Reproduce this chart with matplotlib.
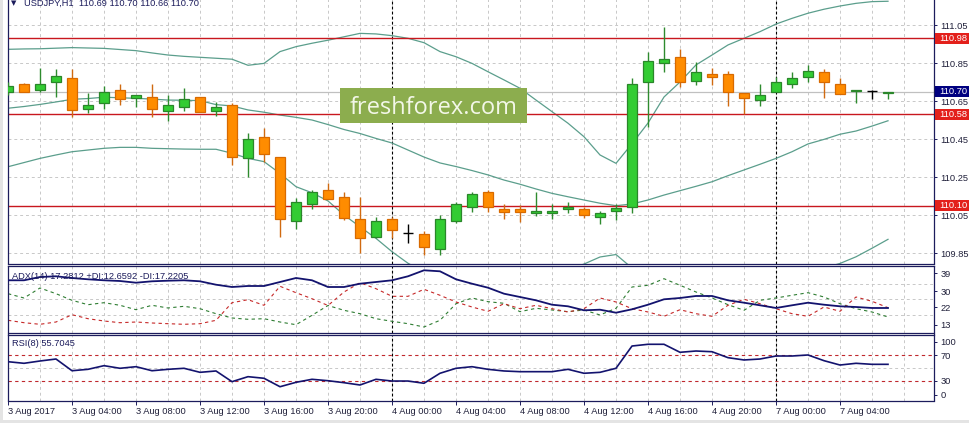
import matplotlib
matplotlib.use("Agg")
import matplotlib.pyplot as plt
import matplotlib.transforms as mtransforms
from matplotlib.patches import Rectangle

plt.rcParams['font.family'] = ['Liberation Sans', 'DejaVu Sans']

W, H = 969, 423

# --- data (USDJPY, H1) ---
time_labels = ["3 Aug 2017", "3 Aug 04:00", "3 Aug 08:00", "3 Aug 12:00", "3 Aug 16:00",
               "3 Aug 20:00", "4 Aug 00:00", "4 Aug 04:00", "4 Aug 08:00", "4 Aug 12:00",
               "4 Aug 16:00", "4 Aug 20:00", "7 Aug 00:00", "7 Aug 04:00"]

opens = [110.700, 110.740, 110.706, 110.748, 110.770, 110.606, 110.638, 110.706, 110.668, 110.670,
         110.600, 110.617, 110.670, 110.600, 110.627, 110.348, 110.459, 110.357, 110.017, 110.106,
         110.181, 110.146, 110.029, 109.936, 110.029, 109.957, 109.948, 109.870, 110.017, 110.094,
         110.170, 110.082, 110.082, 110.059, 110.059, 110.080, 110.082, 110.038, 110.069, 110.094,
         110.748, 110.848, 110.880, 110.757, 110.792, 110.792, 110.690, 110.657, 110.699, 110.738,
         110.778, 110.803, 110.738, 110.701, 110.704, 110.690]
highs = [110.750, 110.745, 110.822, 110.818, 110.818, 110.690, 110.729, 110.740, 110.682, 110.740,
         110.682, 110.717, 110.670, 110.646, 110.638, 110.480, 110.506, 110.357, 110.138, 110.181,
         110.220, 110.169, 110.146, 110.038, 110.038, 110.003, 109.967, 110.050, 110.118, 110.170,
         110.181, 110.106, 110.103, 110.170, 110.106, 110.117, 110.094, 110.073, 110.106, 110.770,
         110.910, 111.040, 110.922, 110.854, 110.822, 110.808, 110.690, 110.740, 110.778, 110.804,
         110.840, 110.818, 110.770, 110.708, 110.708, 110.700]
lows = [110.680, 110.700, 110.700, 110.670, 110.567, 110.585, 110.606, 110.629, 110.618, 110.567,
        110.546, 110.599, 110.590, 110.571, 110.315, 110.248, 110.330, 109.936, 109.976, 110.080,
        110.136, 110.024, 109.850, 109.927, 109.927, 109.904, 109.838, 109.838, 110.006, 110.068,
        110.068, 110.027, 110.015, 110.046, 110.027, 110.059, 110.036, 110.001, 110.024, 110.059,
        110.515, 110.804, 110.722, 110.734, 110.734, 110.624, 110.580, 110.624, 110.699, 110.717,
        110.748, 110.667, 110.688, 110.638, 110.659, 110.660]
closes = [110.730, 110.700, 110.740, 110.782, 110.603, 110.627, 110.700, 110.659, 110.680, 110.606,
          110.627, 110.659, 110.590, 110.617, 110.357, 110.448, 110.369, 110.029, 110.117, 110.169,
          110.136, 110.036, 109.927, 110.017, 109.971, 109.957, 109.880, 110.027, 110.106, 110.159,
          110.090, 110.068, 110.068, 110.071, 110.071, 110.090, 110.048, 110.059, 110.088, 110.738,
          110.860, 110.870, 110.748, 110.804, 110.778, 110.699, 110.667, 110.680, 110.748, 110.770,
          110.808, 110.748, 110.688, 110.708, 110.704, 110.700]

bb_upper = [110.922, 110.924, 110.925, 110.928, 110.931, 110.929, 110.927, 110.921, 110.915, 110.903,
            110.892, 110.885, 110.880, 110.875, 110.870, 110.838, 110.848, 110.910, 110.936, 110.954,
            110.970, 110.988, 111.006, 111.003, 110.994, 110.980, 110.957, 110.910, 110.883, 110.848,
            110.804, 110.761, 110.717, 110.655, 110.594, 110.533, 110.462, 110.366, 110.322, 110.425,
            110.534, 110.671, 110.750, 110.840, 110.892, 110.945, 110.980, 111.015, 111.055, 111.085,
            111.112, 111.133, 111.150, 111.164, 111.173, 111.175]
bb_middle = [110.612, 110.621, 110.632, 110.645, 110.659, 110.663, 110.670, 110.667, 110.664, 110.660,
             110.655, 110.654, 110.652, 110.631, 110.624, 110.603, 110.591, 110.576, 110.564, 110.550,
             110.526, 110.500, 110.479, 110.453, 110.429, 110.392, 110.355, 110.324, 110.305, 110.284,
             110.261, 110.234, 110.212, 110.187, 110.164, 110.146, 110.129, 110.112, 110.099, 110.108,
             110.129, 110.155, 110.178, 110.201, 110.225, 110.257, 110.287, 110.317, 110.348, 110.383,
             110.424, 110.448, 110.475, 110.492, 110.518, 110.546]
bb_lower = [110.304, 110.326, 110.348, 110.366, 110.383, 110.392, 110.401, 110.406, 110.406, 110.401,
            110.399, 110.397, 110.396, 110.396, 110.375, 110.348, 110.331, 110.269, 110.199, 110.167,
            110.124, 110.050, 109.988, 109.927, 109.857, 109.796, 109.750, 109.734, 109.724, 109.718,
            109.718, 109.718, 109.708, 109.718, 109.734, 109.761, 109.792, 109.829, 109.842, 109.771,
            109.708, 109.645, 109.603, 109.576, 109.561, 109.571, 109.592, 109.618, 109.645, 109.682,
            109.734, 109.771, 109.795, 109.830, 109.875, 109.922]

adx_main = [35.56, 35.56, 37.22, 37.58, 36.72, 36.06, 35.56, 35.20, 34.34, 35.05,
            35.35, 35.56, 35.05, 33.33, 32.17, 32.68, 32.68, 34.70, 36.72, 35.56,
            32.17, 32.17, 33.84, 34.70, 35.56, 37.58, 40.61, 40.10, 36.06, 33.84,
            31.82, 28.79, 27.12, 25.45, 23.23, 22.42, 20.40, 20.71, 19.19, 20.91,
            23.23, 25.96, 26.62, 27.63, 27.63, 25.45, 24.24, 22.93, 21.57, 22.93,
            24.24, 23.23, 22.42, 22.07, 21.57, 21.57]
plus_di = [28.79, 26.62, 31.67, 28.79, 25.45, 23.23, 24.24, 22.93, 20.71, 22.93,
           21.57, 22.42, 21.21, 18.69, 16.52, 15.86, 16.16, 14.49, 13.13, 17.88,
           22.83, 20.40, 18.69, 16.16, 14.85, 13.64, 11.97, 15.35, 23.74, 26.62,
           24.75, 23.94, 19.70, 21.41, 20.56, 19.70, 20.56, 18.03, 21.41, 32.17,
           33.03, 36.36, 33.03, 29.65, 26.62, 23.23, 20.40, 25.45, 26.62, 27.98,
           29.29, 27.12, 23.74, 21.21, 19.55, 17.02]
minus_di = [15.35, 14.14, 13.33, 14.49, 18.18, 16.16, 15.00, 14.14, 14.49, 13.99,
            13.64, 13.33, 13.64, 15.35, 24.24, 25.76, 22.93, 32.53, 29.29, 26.26,
            22.83, 29.65, 34.34, 31.31, 27.47, 27.47, 31.01, 27.98, 24.60, 22.07,
            19.90, 23.74, 21.21, 22.93, 21.21, 19.55, 21.21, 26.62, 24.60, 21.21,
            19.55, 17.37, 20.71, 18.69, 17.37, 22.93, 25.96, 23.74, 21.21, 18.69,
            17.37, 22.07, 19.90, 27.12, 24.95, 21.72]
rsi_vals = [60.0, 57.5, 61.1, 64.2, 45.9, 48.1, 53.8, 49.7, 52.2, 45.9,
            48.1, 49.7, 43.4, 45.5, 28.8, 36.6, 34.1, 20.9, 27.8, 32.5,
            30.3, 27.2, 23.6, 32.5, 29.8, 29.8, 26.3, 41.9, 49.7, 52.2,
            48.1, 45.5, 44.4, 44.4, 44.4, 48.1, 41.9, 43.4, 49.7, 84.5,
            87.2, 87.2, 74.7, 76.7, 75.6, 66.3, 62.7, 64.2, 68.9, 68.9,
            70.5, 61.6, 54.8, 57.5, 55.9, 55.9]

levels = [110.98, 110.58, 110.10]
last_price = 110.70
price_ticks = [111.05, 110.85, 110.65, 110.45, 110.25, 110.05, 109.85]
adx_ticks = [39, 30, 22, 13]
adx_grid = [33.84, 25.86, 17.88]
rsi_ticks = [90.8, 70, 30, 8.4]
rsi_tick_labels = ["100", "70", "30", "0"]

NAVY = '#1c1c5c'
GRID = '#c8c8c8'
LVL_RED = '#c8171e'


def rect(x0, y0, x1, y1):
    return [x0 / W, 1 - y1 / H, (x1 - x0) / W, (y1 - y0) / H]


def fpos(x, y):
    return x / W, 1 - y / H


fig = plt.figure(figsize=(W / 100, H / 100), dpi=100)
fig.patch.set_facecolor('white')

ax = fig.add_axes(rect(7.5, -2, 933.5, 263.5))
ax_adx = fig.add_axes(rect(7.5, 265.5, 933.5, 332.5))
ax_rsi = fig.add_axes(rect(7.5, 334.5, 933.5, 400.5))

n = len(opens)
xs = list(range(n))
xlim = (-0.03125, 57.84375)

for a in (ax, ax_adx, ax_rsi):
    a.set_xlim(*xlim)
    for s in a.spines.values():
        s.set_color(NAVY)
        s.set_linewidth(0.9)
    for i in range(2, 58, 2):
        a.axvline(i, color=GRID, ls=(0, (3, 3)), lw=0.7, zorder=0)
    for d in (24, 48):
        a.axvline(d, color='black', ls=(0, (2.5, 2)), lw=0.8, zorder=1)
    a.yaxis.tick_right()
    a.tick_params(axis='y', length=2, width=0.7, colors=NAVY, pad=3, labelsize=6.7,
                  labelcolor='#20203a')
    a.tick_params(axis='x', length=0)
    a.set_xticklabels([])

# main price panel
ax.set_ylim(111.1816 - 263.5 / 190, 111.1816 + 2 / 190)
ax.spines['top'].set_visible(False)
for p in price_ticks:
    ax.axhline(p, color=GRID, ls=(0, (3, 3)), lw=0.7, zorder=0)
ax.axhline(last_price, color='#c0c0c0', lw=0.9, zorder=0.5)
ax.set_yticks(price_ticks)
ax.set_yticklabels([f"{p:.2f}" for p in price_ticks])

band_col = '#5b9e8c'
ax.plot(xs, bb_upper, color=band_col, lw=0.9, zorder=2)
ax.plot(xs, bb_middle, color=band_col, lw=0.9, zorder=2)
ax.plot(xs, bb_lower, color=band_col, lw=0.9, zorder=2)

for lv in levels:
    ax.axhline(lv, color=LVL_RED, lw=1.0, zorder=2.5)

bw = 0.62
for i in xs:
    o, h, l, c = opens[i], highs[i], lows[i], closes[i]
    if c > o:
        fc, ec, wc = '#33cc33', '#2a862a', '#2e8b2e'
    elif c < o:
        fc, ec, wc = '#ff8c00', '#d86a00', '#d06a10'
    else:
        fc, ec, wc = 'black', 'black', 'black'
    ax.vlines(i, l, h, color=wc, lw=1.0, zorder=3)
    if c != o:
        ax.add_patch(Rectangle((i - bw / 2, min(o, c)), bw, abs(c - o),
                               facecolor=fc, edgecolor=ec, lw=0.9, zorder=4))
    else:
        ax.hlines(o, i - bw / 2, i + bw / 2, color='black', lw=1.0, zorder=4)

# ADX panel
ax_adx.set_ylim(9.19, 43.03)
for g in adx_grid:
    ax_adx.axhline(g, color=GRID, ls=(0, (3, 3)), lw=0.7, zorder=0)
ax_adx.plot(xs, plus_di, color='#2e7d32', lw=0.8, ls=(0, (3, 3)), zorder=2)
ax_adx.plot(xs, minus_di, color='#c62828', lw=0.8, ls=(0, (3, 3)), zorder=2)
ax_adx.plot(xs, adx_main, color='#13136e', lw=1.3, zorder=3)
ax_adx.set_yticks(adx_ticks)
ax_adx.set_yticklabels([str(t) for t in adx_ticks])

# RSI panel
ax_rsi.set_ylim(-0.625, 102.5)
ax_rsi.axhline(50, color=GRID, ls=(0, (3, 3)), lw=0.7, zorder=0)
for lv in (70, 30):
    ax_rsi.axhline(lv, color='#c0282d', ls=(0, (3, 3)), lw=0.8, zorder=1)
ax_rsi.plot(xs, rsi_vals, color='#13136e', lw=1.2, zorder=3)
ax_rsi.set_yticks(rsi_ticks)
ax_rsi.set_yticklabels(rsi_tick_labels)
ax_rsi.set_xticks(list(range(0, 56, 4)))
ax_rsi.set_xticklabels(time_labels, ha='left')
ax_rsi.tick_params(axis='x', length=3, width=0.7, colors=NAVY, pad=2, labelsize=6.7,
                   labelcolor='#20203a')

# price labels boxes on the right scale
for lv, col in [(110.98, '#e3201b'), (110.58, '#e3201b'), (110.10, '#e3201b'), (last_price, '#000080')]:
    ypix = (111.1816 - lv) * 190
    fig.patches.append(Rectangle(fpos(934.5, ypix + 5.5), 35 / W, 11 / H,
                                 transform=fig.transFigure, facecolor=col,
                                 edgecolor='none', zorder=5))
    fig.text(*fpos(939.5, ypix), f"{lv:.2f}", ha='left', va='center', fontsize=6.7,
             color='white', zorder=6)

# titles
fig.text(*fpos(11, 3.5), "\u25bc", ha='left', va='center', fontsize=5, color=NAVY,
         family='DejaVu Sans')
fig.text(*fpos(24, 3.5), "USDJPY,H1  110.69 110.70 110.66 110.70", ha='left', va='center',
         fontsize=6.7, color=NAVY)
fig.text(*fpos(12.5, 276), "ADX(14) 17.2812 +DI:12.6592 -DI:17.2205", ha='left', va='center',
         fontsize=6.7, color=NAVY)
fig.text(*fpos(12.5, 343.5), "RSI(8) 55.7045", ha='left', va='center', fontsize=6.7, color=NAVY)

# watermark
fig.patches.append(Rectangle(fpos(340, 123), 187 / W, 35 / H, transform=fig.transFigure,
                             facecolor='#8cad4e', edgecolor='none', zorder=7))
fig.text(*fpos(433.5, 113.5), "freshforex.com", ha='center', va='baseline', fontsize=17,
         color='#f3f7e8', family='Open Sans', zorder=8)

# window frame bits
fig.patches.append(Rectangle((0, 0), 3 / W, 1, transform=fig.transFigure,
                             facecolor='#e4e4e4', edgecolor='none', zorder=-1))
fig.patches.append(Rectangle((0, 0), 1, 3 / H, transform=fig.transFigure,
                             facecolor='#e4e4e4', edgecolor='none', zorder=-1))

fig.savefig("out.png", dpi=100)
